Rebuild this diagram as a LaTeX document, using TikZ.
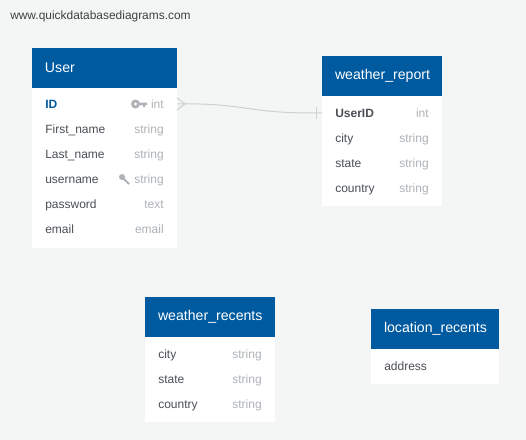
\documentclass[tikz,border=0pt]{standalone}
\usepackage{fontspec}
\setmainfont{Liberation Sans}
\usepackage{xcolor}
\usetikzlibrary{positioning}
\definecolor{pagebg}{HTML}{F4F6F6}
\definecolor{headblue}{HTML}{005AA0}
\definecolor{nametext}{HTML}{4A4F55}
\definecolor{typetext}{HTML}{AEB2B6}
\definecolor{linkgrey}{HTML}{CDD0D0}
\tikzset{
	tablebody/.style={fill=white, anchor=north west, inner sep=0pt, outer sep=0pt},
	tablehead/.style={fill=headblue, text=white, anchor=north west, inner sep=0pt, outer sep=0pt, minimum height=30pt, font=\fontsize{10.6}{12}\selectfont, align=left},
	fieldname/.style={anchor=base west, inner sep=0pt, text=nametext, font=\fontsize{9}{11}\selectfont},
	fieldtype/.style={anchor=base east, inner sep=0pt, text=typetext, font=\fontsize{9}{11}\selectfont},
	link/.style={draw=linkgrey, line width=.75pt}
}
\begin{document}
\begin{tikzpicture}[x=.75pt, y=-.75pt]
	\useasboundingbox[fill=pagebg] (0,0) rectangle (526,440);
	\node[anchor=west, inner sep=0pt, text=black!75, font=\fontsize{8.95}{10}\selectfont] (site) at (10,16) {www.quickdatabasediagrams.com};

	% User
	\node[tablebody, minimum width=108.75pt, minimum height=150pt] (User) at (32,48) {};
	\node[tablehead, minimum width=108.75pt, text width=89.25pt] (Userhead) at (32,48) {User};
	\node[fieldname, text=headblue, font=\fontsize{9}{11}\selectfont\bfseries] (UserID) at (45,108) {ID};
	\node[fieldtype] (UserIDtype) at (164,108) {int};
	\node[fieldname] (Userfirst) at (45,133) {First\_name};
	\node[fieldtype] (Userfirsttype) at (164,133) {string};
	\node[fieldname] (Userlast) at (45,158) {Last\_name};
	\node[fieldtype] (Userlasttype) at (164,158) {string};
	\node[fieldname] (Username) at (45,183) {username};
	\node[fieldtype] (Usernametype) at (164,183) {string};
	\node[fieldname] (Userpass) at (45,208) {password};
	\node[fieldtype] (Userpasstype) at (164,208) {text};
	\node[fieldname] (Usermail) at (45,233) {email};
	\node[fieldtype] (Usermailtype) at (164,233) {email};

	% key and wrench
	\fill[typetext, even odd rule] (135.5,104) circle (4.5) circle (1.8);
	\fill[typetext] (139,102.5) rectangle (147,105) (143,105) rectangle (145,107);
	\draw[typetext, line width=1.5pt] (121,176) -- (129,184);
	\fill[typetext] (122,177) circle (3);

	% weather_report
	\node[tablebody, minimum width=90pt, minimum height=112.5pt] (report) at (322,56) {};
	\node[tablehead, minimum width=90pt, text width=70.5pt] (reporthead) at (322,56) {weather\_report};
	\node[fieldname, font=\fontsize{9}{11}\selectfont\bfseries] (reportID) at (335,117) {UserID};
	\node[fieldtype] (reportIDtype) at (429,117) {int};
	\node[fieldname] (reportcity) at (335,142) {city};
	\node[fieldtype] (reportcitytype) at (429,142) {string};
	\node[fieldname] (reportstate) at (335,167) {state};
	\node[fieldtype] (reportstatetype) at (429,167) {string};
	\node[fieldname] (reportcountry) at (335,192) {country};
	\node[fieldtype] (reportcountrytype) at (429,192) {string};

	% weather_recents
	\node[tablebody, minimum width=97.5pt, minimum height=93.75pt] (recents) at (145,297) {};
	\node[tablehead, minimum width=97.5pt, text width=78pt] (recentshead) at (145,297) {weather\_recents};
	\node[fieldname] (recentscity) at (158,358) {city};
	\node[fieldtype] (recentscitytype) at (262,358) {string};
	\node[fieldname] (recentsstate) at (158,383) {state};
	\node[fieldtype] (recentsstatetype) at (262,383) {string};
	\node[fieldname] (recentscountry) at (158,408) {country};
	\node[fieldtype] (recentscountrytype) at (262,408) {string};

	% location_recents
	\node[tablebody, minimum width=96pt, minimum height=56.25pt] (location) at (371,309) {};
	\node[tablehead, minimum width=96pt, text width=76.5pt] (locationhead) at (371,309) {location\_recents};
	\node[fieldname] (locationaddress) at (384,370) {address};

	% link
	\coordinate (linkfrom) at (User.east |- UserID.center);
	\coordinate (linkto) at (report.west |- reportID.center);
	\draw[link] (linkfrom) .. controls ++(70,-1) and ++(-75,1) .. (linkto);
	\draw[link] ([shift={(0,-6)}]linkfrom) -- ++(8,6) -- ++(-8,6);
	\draw[link] ([shift={(-6,-6)}]linkto) -- ++(0,12);
\end{tikzpicture}
\end{document}
